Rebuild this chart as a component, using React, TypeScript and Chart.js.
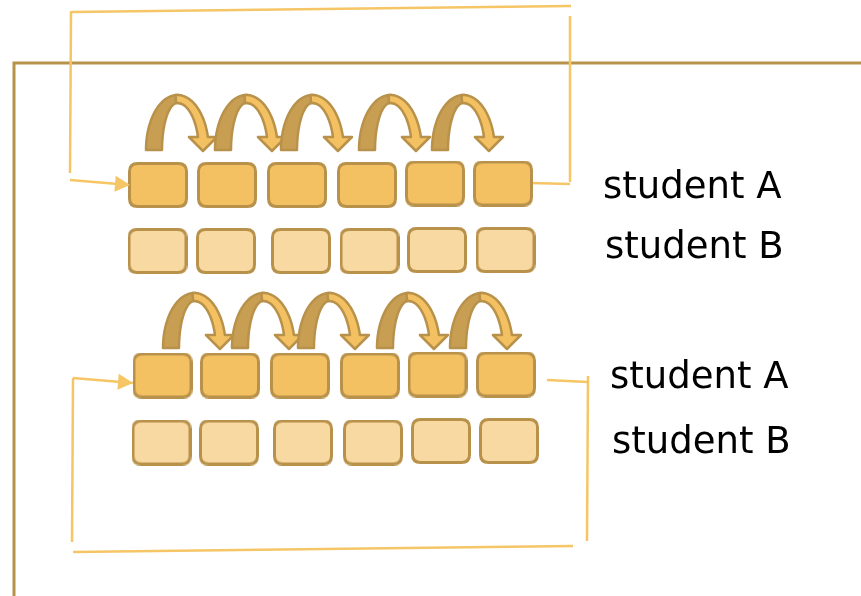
import { useEffect, useRef } from 'react';
import { Chart, registerables } from 'chart.js';

Chart.register(...registerables);

const W = 861;
const H = 596;

// Row labels
const rowLabels = ['student A', 'student B', 'student A', 'student B'];
const labelX = [603, 605, 610, 612];
const labelY = [198, 258, 388, 453];

// Box centres (diagram coordinates)
const rowA1X = [158, 227, 297, 367, 435, 503];
const rowA1Y = [185, 185, 185, 185, 183.5, 183.5];
const rowB1X = [157.5, 226, 301, 369.5, 437, 505.5];
const rowB1Y = [251, 251, 251, 251, 250, 250];
const rowA2X = [162.5, 230, 300, 370, 437.5, 506];
const rowA2Y = [375.5, 375.5, 375.5, 375.5, 374.5, 374.5];
const rowB2X = [161.5, 229, 303, 373, 441, 509];
const rowB2Y = [442.5, 442.5, 442.5, 442.5, 441, 441];

// Curved "pass" arrows: left foot and base line of each row
const arcLeft1 = [146, 215, 281, 359, 432];
const arcBase1 = 150;
const arcLeft2 = [163, 232, 298, 377, 450];
const arcBase2 = 348;

// Outer frame
const framePts = [[861, 63], [14, 63], [14, 596]];

// Loop connectors (group 1 and group 2)
const loop1 = [
  [[70, 173], [71, 11]],
  [[72, 12], [571, 6]],
  [[570, 16], [570, 182]],
  [[530, 183], [570, 184]],
  [[70, 180], [130, 185]],
];
const loop2 = [
  [[547, 380], [588, 382]],
  [[588, 376], [587, 541]],
  [[573, 546], [73, 552]],
  [[72, 542], [73, 378]],
  [[73, 378], [133, 383]],
];
const arrowTips = [
  [[70, 180], [130, 185]],
  [[73, 378], [133, 383]],
];

const OUTLINE = '#b8914b';
const FILL_A = '#f3c162';
const FILL_B = '#f8d9a1';
const DARK = '#c89e52';
const CONNECT = '#f6c565';
const FRAME = '#b8914a';

function makeBox(fill: string) {
  const c = document.createElement('canvas');
  c.width = 60;
  c.height = 46;
  const g = c.getContext('2d')!;
  const x = 1.5, y = 1.5, w = 57, h = 43, r = 8;
  g.beginPath();
  g.moveTo(x + r, y);
  g.lineTo(x + w - r, y);
  g.quadraticCurveTo(x + w, y, x + w, y + r);
  g.lineTo(x + w, y + h - r);
  g.quadraticCurveTo(x + w, y + h, x + w - r, y + h);
  g.lineTo(x + r, y + h);
  g.quadraticCurveTo(x, y + h, x, y + h - r);
  g.lineTo(x, y + r);
  g.quadraticCurveTo(x, y, x + r, y);
  g.closePath();
  g.fillStyle = fill;
  g.fill();
  g.lineWidth = 3;
  g.strokeStyle = OUTLINE;
  g.stroke();
  return c;
}

const diagramPlugin = {
  id: 'diagram',
  afterDatasetsDraw(chart: any) {
    const { ctx, scales } = chart;
    const xs = scales.x;
    const ys = scales.y;
    const P = (a: number, b: number): [number, number] => [xs.getPixelForValue(a), ys.getPixelForValue(b)];

    ctx.save();
    ctx.lineJoin = 'round';

    // connector arrowheads
    arrowTips.forEach(([from, to]) => {
      const [x0, y0] = P(from[0], from[1]);
      const [x1, y1] = P(to[0], to[1]);
      const ang = Math.atan2(y1 - y0, x1 - x0);
      const len = 15, hw = 8;
      const bx = x1 - len * Math.cos(ang), by = y1 - len * Math.sin(ang);
      ctx.beginPath();
      ctx.moveTo(x1, y1);
      ctx.lineTo(bx - hw * Math.sin(ang), by + hw * Math.cos(ang));
      ctx.lineTo(bx + hw * Math.sin(ang), by - hw * Math.cos(ang));
      ctx.closePath();
      ctx.fillStyle = CONNECT;
      ctx.fill();
    });

    // curved arrows
    const drawArc = (left: number, base: number) => {
      const Ro = 31.4, Ho = 55, Rd = 15.4, Hd = 47, Rl = 21.4, Hl = 47, lift = 13;
      const cx = left + Ro;
      const N = 40;
      // dark (back) band
      ctx.beginPath();
      const t0 = Math.PI, t1 = 1.5 * Math.PI + 0.12;
      for (let i = 0; i <= N; i++) {
        const t = t0 + ((t1 - t0) * i) / N;
        const [px, py] = P(cx + Ro * Math.cos(t), base + Ho * Math.sin(t));
        i === 0 ? ctx.moveTo(px, py) : ctx.lineTo(px, py);
      }
      for (let i = N; i >= 0; i--) {
        const t = t0 + ((t1 - t0) * i) / N;
        const [px, py] = P(cx + Rd * Math.cos(t), base + Hd * Math.sin(t));
        ctx.lineTo(px, py);
      }
      ctx.closePath();
      ctx.fillStyle = DARK;
      ctx.fill();
      ctx.lineWidth = 2.5;
      ctx.strokeStyle = OUTLINE;
      ctx.stroke();

      // light (front) band with arrowhead
      const a0 = 1.5 * Math.PI - 0.06;
      const ao = 2 * Math.PI - Math.asin(lift / Ho);
      const ai = 2 * Math.PI - Math.asin(lift / Hl);
      const xo = cx + Ro * Math.cos(ao);
      const xi = cx + Rl * Math.cos(ai);
      const xc = (xo + xi) / 2;
      ctx.beginPath();
      for (let i = 0; i <= N; i++) {
        const t = a0 + ((ao - a0) * i) / N;
        const [px, py] = P(cx + Ro * Math.cos(t), base + Ho * Math.sin(t));
        i === 0 ? ctx.moveTo(px, py) : ctx.lineTo(px, py);
      }
      ctx.lineTo(...P(xc + 14, base - lift));
      ctx.lineTo(...P(xc, base + 1));
      ctx.lineTo(...P(xc - 14, base - lift));
      for (let i = N; i >= 0; i--) {
        const t = a0 + ((ai - a0) * i) / N;
        const [px, py] = P(cx + Rl * Math.cos(t), base + Hl * Math.sin(t));
        ctx.lineTo(px, py);
      }
      ctx.closePath();
      ctx.fillStyle = FILL_A;
      ctx.fill();
      ctx.stroke();
    };
    arcLeft1.forEach((l) => drawArc(l, arcBase1));
    arcLeft2.forEach((l) => drawArc(l, arcBase2));

    // labels
    ctx.fillStyle = '#000000';
    ctx.font = '37px "DejaVu Sans"';
    ctx.textBaseline = 'alphabetic';
    ctx.textAlign = 'left';
    rowLabels.forEach((t, i) => {
      const [px, py] = P(labelX[i], labelY[i]);
      ctx.fillText(t, px, py);
    });
    ctx.restore();
  },
};

export default function App() {
  const ref = useRef<HTMLCanvasElement>(null);

  useEffect(() => {
    const boxA = makeBox(FILL_A);
    const boxB = makeBox(FILL_B);
    const toPts = (xsArr: number[], ysArr: number[]) => xsArr.map((v, i) => ({ x: v, y: ysArr[i] }));
    const boxSet = (xsArr: number[], ysArr: number[], img: HTMLCanvasElement) => ({
      data: toPts(xsArr, ysArr),
      pointStyle: img,
      pointRadius: 3,
      showLine: false,
    });
    const lineSet = (pts: number[][], color: string, width: number) => ({
      data: pts.map(([a, b]) => ({ x: a, y: b })),
      showLine: true,
      borderColor: color,
      borderWidth: width,
      pointRadius: 0,
      tension: 0,
      fill: false,
    });

    const chart = new Chart(ref.current!, {
      type: 'scatter',
      data: {
        datasets: [
          boxSet(rowA1X, rowA1Y, boxA),
          boxSet(rowB1X, rowB1Y, boxB),
          boxSet(rowA2X, rowA2Y, boxA),
          boxSet(rowB2X, rowB2Y, boxB),
          ...loop1.map((s) => lineSet(s, CONNECT, 2.5)),
          ...loop2.map((s) => lineSet(s, CONNECT, 2.5)),
          lineSet(framePts, FRAME, 3),
        ] as any,
      },
      options: {
        animation: false,
        responsive: false,
        events: [],
        layout: { padding: 0, autoPadding: false },
        plugins: { legend: { display: false }, tooltip: { enabled: false } },
        scales: {
          x: { type: 'linear', min: 0, max: W, display: false },
          y: { type: 'linear', min: 0, max: H, reverse: true, display: false },
        },
      },
      plugins: [diagramPlugin],
    });
    return () => chart.destroy();
  }, []);

  return (
    <div style={{ position: 'absolute', left: 0, top: 0, width: W, height: H, background: '#fff' }}>
      <canvas ref={ref} width={W} height={H} style={{ display: 'block' }} />
    </div>
  );
}
